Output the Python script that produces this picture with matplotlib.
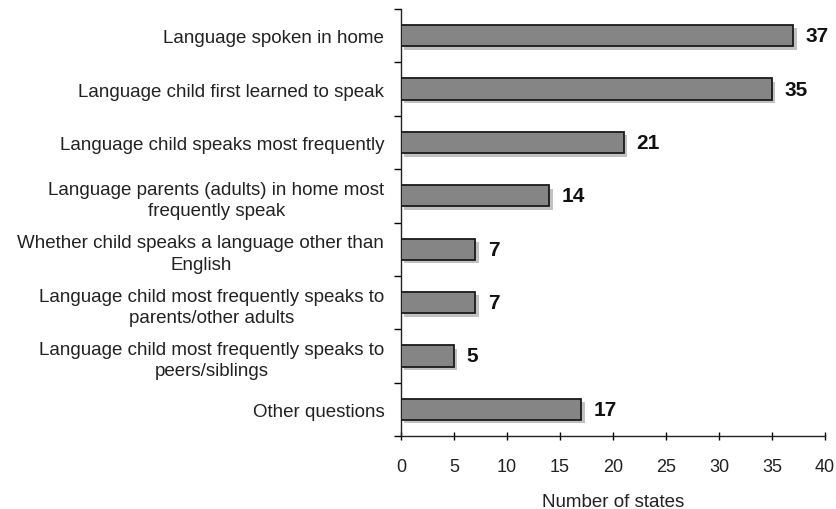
import numpy as np
import matplotlib
matplotlib.use("Agg")
import matplotlib.pyplot as plt
import matplotlib.patheffects as pe

categories = [
    "Language spoken in home",
    "Language child first learned to speak",
    "Language child speaks most frequently",
    "Language parents (adults) in home most\nfrequently speak",
    "Whether child speaks a language other than\nEnglish",
    "Language child most frequently speaks to\nparents/other adults",
    "Language child most frequently speaks to\npeers/siblings",
    "Other questions",
]
counts = [37, 35, 21, 14, 7, 7, 5, 17]
xticks = [0, 5, 10, 15, 20, 25, 30, 35, 40]

plt.rcParams["font.family"] = ["Liberation Sans", "DejaVu Sans"]

fig = plt.figure(figsize=(8.37, 5.10), dpi=100)
ax = fig.add_axes([401 / 837, 1 - 437 / 510, 424 / 837, 427 / 510])

y = np.arange(len(categories))
bars = ax.barh(y, counts, height=0.4, color="#858585", edgecolor="#1a1a1a",
               linewidth=1.3, zorder=3)
for b in bars:
    b.set_path_effects([pe.SimplePatchShadow(offset=(2.5, -2.5), shadow_rgbFace="#999999", alpha=0.6),
                        pe.Normal()])

for yi, v in zip(y, counts):
    ax.text(v + 1.2, yi, str(v), va="center", ha="left", fontsize=15,
            fontweight="bold", color="#111111")

ax.set_ylim(len(categories) - 0.5, -0.5)
ax.set_xlim(0, 40)
ax.set_xticks(xticks)
ax.set_xticklabels([str(t) for t in xticks], fontsize=13, color="#222222")
ax.set_yticks(y)
ax.set_yticklabels(categories, fontsize=13.5, multialignment="center",
                   linespacing=1.35, color="#222222")
ax.set_yticks(np.arange(len(categories) + 1) - 0.5, minor=True)
ax.tick_params(axis="y", which="major", length=0, pad=12)
ax.tick_params(axis="y", which="minor", length=5, direction="out", width=1)
ax.tick_params(axis="x", length=6, direction="inout", width=1, pad=13)
ax.set_xlabel("Number of states", fontsize=13.5, labelpad=13, color="#222222")

for s in ["top", "right"]:
    ax.spines[s].set_visible(False)
for s in ["left", "bottom"]:
    ax.spines[s].set_linewidth(1.0)
    ax.spines[s].set_color("#222222")

fig.savefig("out.png", dpi=100)
